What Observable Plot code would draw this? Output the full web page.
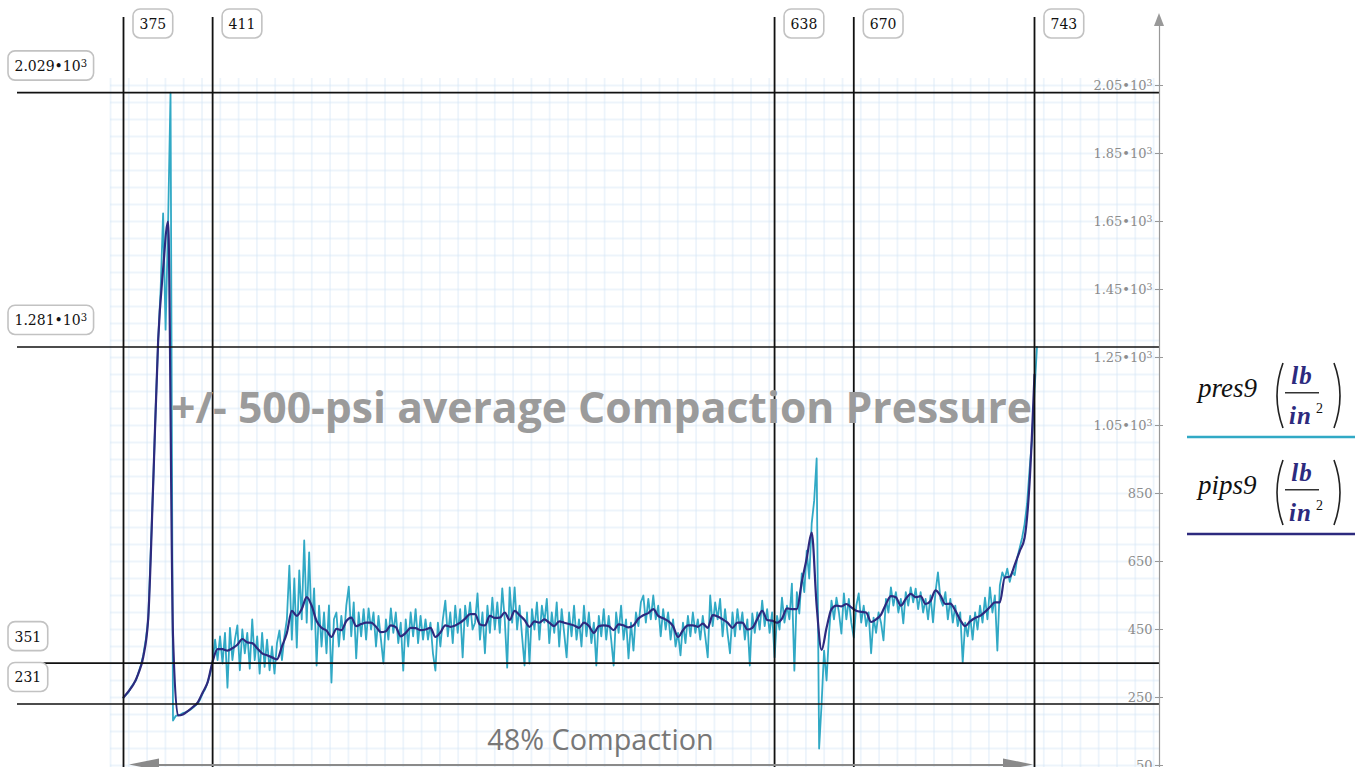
<!DOCTYPE html>
<html><head><meta charset="utf-8">
<script src="https://cdn.jsdelivr.net/npm/d3@7"></script>
<script src="https://cdn.jsdelivr.net/npm/@observablehq/plot@0.6"></script>
<style>
html,body{margin:0;padding:0;background:#fff;}
#wrap{position:relative;width:1361px;height:767px;overflow:hidden;}
</style></head><body><div id="wrap"></div>
<script>
// ---------- data ----------
const presStart = 375; // index of first pres9 sample, step 1
const pres9 = [
250,258,265,280,290,300,322,345,375,420,
480,680,880,1100,1300,1450,1674,1332,1640,2029,
182,195,198,200,204,206,210,214,220,226,
232,245,262,275,295,320,356,
420,360,430,350,440,279,455,360,420,
462,330,450,380,440,335,480,360,430,320,
440,340,420,330,400,320,410,447,360,430,
480,638,420,600,397,624,480,712,470,677,
450,571,344,520,400,500,380,521,294,480,
500,400,490,420,520,576,430,530,365,500,
430,510,420,512,450,500,400,490,420,350,
480,420,512,440,500,410,470,329,480,400,
500,430,510,410,490,420,480,420,470,380,
329,470,400,480,535,430,500,410,520,440,
510,368,520,460,530,450,470,556,420,500,
380,520,440,544,450,530,440,571,480,338,
574,470,574,450,520,430,344,500,350,510,
450,530,420,520,470,540,410,500,440,530,
400,510,440,368,500,430,520,420,480,400,
520,430,500,410,470,344,490,430,510,420,
490,420,344,500,440,520,420,480,365,470,
388,500,460,530,550,470,540,480,550,480,
520,430,510,450,500,420,480,400,440,374,
470,410,490,430,500,440,480,420,490,430,
368,550,460,530,480,540,430,510,440,380,
500,430,510,450,500,420,480,344,497,440,
500,450,535,460,510,440,500,368,490,450,
544,470,520,480,585,329,560,497,615,560,
682,600,762,829,953,100,232,388,300,438,
535,480,544,500,438,556,480,540,470,426,
520,556,470,520,460,500,380,485,440,500,
470,418,540,500,574,520,560,500,540,468,
560,520,574,530,570,510,560,500,540,480,
550,471,560,618,540,520,560,480,540,470,
520,460,500,353,470,430,490,420,500,450,
520,470,544,480,574,500,550,388,580,618,
600,629,590,620,610,660,690,720,760,820,
920,1010,1150,1281
];
const pipsStart = 375, pipsStep = 2; // pips9 sampled every 2 index units
const pips9 = [
250,268,288,320,370,485,880,1300,1510,1650,
430,197,200,210,222,236,265,295,356,392,
392,388,395,405,422,412,410,395,380,374,
368,362,400,440,505,490,510,545,520,475,
455,447,428,452,448,475,485,460,466,470,
470,458,442,445,462,457,430,440,455,454,
448,450,455,428,441,462,458,462,470,482,
495,495,465,462,490,484,485,500,478,505,
492,478,458,474,470,480,470,460,474,470,
466,462,455,470,460,440,460,462,460,448,
465,462,456,462,482,492,498,510,490,483,
475,460,428,448,462,462,458,467,455,492,
488,480,470,455,470,470,450,455,480,505,
478,476,470,482,512,510,510,590,660,735,
520,390,455,510,520,518,525,515,505,502,
500,472,480,494,525,548,545,520,540,555,
545,548,525,534,565,550,525,526,506,478,
460,474,484,490,502,516,530,530,603,605,
640,680,720,880,1200
];
const vMarks = [375, 411, 638, 670, 743];
const hMarks = [2029, 1281, 351, 231];
const yTicks = [50, 250, 450, 650, 850, 1050, 1250, 1450, 1650, 1850, 2050];
const legendNames = ["pres9", "pips9"];
const unitNum = "lb", unitDen = "in", unitExp = "2";
const titleText = "+/- 500-psi average Compaction Pressure";
const arrowText = "48% Compaction";

// ---------- layout ----------
const teal = "#31a9c5", navy = "#2d2a7e";
const X0 = 375, X1 = 743, PX0 = 123, PX1 = 1034;
const Y0 = 50, Y1 = 2050, PY0 = 765, PY1 = 85;
const px2x = p => X0 + (p - PX0) * (X1 - X0) / (PX1 - PX0);
const px2y = p => Y0 + (PY0 - p) * (Y1 - Y0) / (PY0 - PY1);

const fmtTick = v => v >= 1000 ? (v / 1000).toFixed(2) + "•10³" : String(v);
const fmtMark = v => v >= 1000 ? (v / 1000).toFixed(3) + "•10³" : String(v);

const presData = pres9.map((v, i) => ({x: presStart + i, y: v}));
const pipsData = pips9.map((v, i) => ({x: pipsStart + i * pipsStep, y: v}));

const gridX = d3.range(110, 1160, 18.3).map(px2x);
const gridY = d3.range(50, 2100, 50);
const arrowLevel = px2y(764.5);

const chart = Plot.plot({
  width: 1361, height: 767,
  marginTop: 0, marginRight: 0, marginBottom: 0, marginLeft: 0,
  x: {domain: [X0, X1], range: [PX0, PX1], axis: null},
  y: {domain: [Y0, Y1], range: [PY0, PY1], axis: null},
  marks: [
    Plot.ruleX(gridX, {x: d => d, y1: px2y(78), y2: px2y(770), stroke: "#d3e4f6", strokeWidth: 1.8, strokeOpacity: 0.42}),
    Plot.ruleY(gridY, {y: d => d, x1: px2x(110), x2: px2x(1159), stroke: "#d3e4f6", strokeWidth: 1.8, strokeOpacity: 0.42}),
    Plot.line(presData, {x: "x", y: "y", stroke: teal, strokeWidth: 1.8}),
    Plot.line(pipsData, {x: "x", y: "y", stroke: navy, strokeWidth: 2.2, curve: "monotone-x"}),
    Plot.ruleX(vMarks, {x: d => d, y1: px2y(17), y2: px2y(770), stroke: "#111", strokeWidth: 1.8}),
    Plot.ruleY(hMarks, {y: d => d, x1: px2x(17), x2: px2x(1159), stroke: "#111", strokeWidth: 1.6}),
    // right axis
    Plot.ruleX([px2x(1159)], {y1: px2y(22), y2: px2y(770), stroke: "#999", strokeWidth: 1.2}),
    Plot.ruleY(yTicks, {y: d => d, x1: px2x(1155), x2: px2x(1163), stroke: "#999", strokeWidth: 1}),
    Plot.text(yTicks, {x: px2x(1152), y: d => d, text: fmtTick, textAnchor: "end", lineAnchor: "middle",
      fill: "#8c8c8c", fontFamily: "DejaVu Serif", fontSize: 13, className: "sup"}),
    // marker labels
    Plot.text(vMarks, {x: d => d, y: px2y(24), dx: 16, text: d => String(d), textAnchor: "start", lineAnchor: "middle",
      fill: "#111", fontFamily: "DejaVu Serif", fontSize: 14, className: "boxlabel"}),
    Plot.text(hMarks, {x: px2x(14), y: d => d, dy: -26, text: fmtMark, textAnchor: "start", lineAnchor: "middle",
      fill: "#111", fontFamily: "DejaVu Serif", fontSize: 14, className: "boxlabel sup"}),
    // annotations
    Plot.text([titleText], {frameAnchor: "top-left", dx: 601, dy: 409, text: d => d, textAnchor: "middle", lineAnchor: "middle",
      fill: "#9b9b9b", fontFamily: "Open Sans", fontWeight: "bold", fontSize: 42.7}),
    Plot.text([arrowText], {frameAnchor: "top-left", dx: 600, dy: 740, text: d => d, textAnchor: "middle", lineAnchor: "middle",
      fill: "#777", fontFamily: "Open Sans", fontSize: 28.8}),
    Plot.ruleY([arrowLevel], {y: d => d, x1: px2x(150), x2: px2x(1005), stroke: "#8a8a8a", strokeWidth: 2})
  ]
});
document.getElementById("wrap").append(chart);

// larger superscript exponent in "•10³" labels
d3.select(chart).selectAll("g.sup text").each(function () {
  const t = this.textContent;
  if (!t.endsWith("³")) return;
  this.textContent = t.slice(0, -1);
  d3.select(this).append("tspan").attr("dy", "-0.42em").attr("font-size", "0.72em").text("3");
});

// boxes behind marker labels
d3.select(chart).selectAll("g.boxlabel text").each(function () {
  const b = this.getBBox();
  const r = document.createElementNS("http://www.w3.org/2000/svg", "rect");
  r.setAttribute("x", b.x - 6.5); r.setAttribute("y", b.y - 7);
  r.setAttribute("width", b.width + 13); r.setAttribute("height", b.height + 13);
  r.setAttribute("rx", 7); r.setAttribute("fill", "#fff");
  r.setAttribute("stroke", "#c2c2c2"); r.setAttribute("stroke-width", 1.6);
  if (this.getAttribute("transform")) r.setAttribute("transform", this.getAttribute("transform"));
  this.parentNode.insertBefore(r, this);
});

const sx = chart.scale("x"), sy = chart.scale("y");
const ov = d3.select(chart).append("g").attr("text-anchor", "start");
// arrow heads
const ay = sy.apply(arrowLevel);
const xr = sx.apply(vMarks[vMarks.length - 1]) - 1, xl = sx.apply(vMarks[0]) + 6;
ov.append("path").attr("d", `M${xr},${ay}L${xr - 30},${ay - 6}L${xr - 30},${ay + 6}Z`).attr("fill", "#8a8a8a");
ov.append("path").attr("d", `M${xl},${ay}L${xl + 30},${ay - 6}L${xl + 30},${ay + 6}Z`).attr("fill", "#8a8a8a");
// axis arrow
const axX = sx.apply(px2x(1159));
ov.append("path").attr("d", `M${axX},13L${axX - 5},26L${axX + 5},26Z`).attr("fill", "#999");

// legend
const legColors = [teal, navy];
legendNames.forEach((name, k) => {
  const o = k * 97;
  ov.append("text").attr("x", 1198).attr("y", 397 + o).attr("font-family", "Liberation Serif")
    .attr("font-style", "italic").attr("font-size", 27).attr("fill", "#111").text(name);
  ov.append("path").attr("d", `M1283,${363 + o}Q1271,${395.5 + o} 1283,${428 + o}`)
    .attr("fill", "none").attr("stroke", "#222").attr("stroke-width", 1.6);
  ov.append("path").attr("d", `M1334,${363 + o}Q1346,${395.5 + o} 1334,${428 + o}`)
    .attr("fill", "none").attr("stroke", "#222").attr("stroke-width", 1.6);
  ov.append("text").attr("x", 1302).attr("y", 384 + o).attr("text-anchor", "middle")
    .attr("font-family", "Liberation Serif").attr("font-style", "italic").attr("font-weight", "bold")
    .attr("font-size", 25).attr("letter-spacing", 1).attr("fill", navy).text(unitNum);
  ov.append("line").attr("x1", 1285).attr("x2", 1319).attr("y1", 392.7 + o).attr("y2", 392.7 + o)
    .attr("stroke", "#333").attr("stroke-width", 1.5);
  ov.append("text").attr("x", 1289).attr("y", 424 + o)
    .attr("font-family", "Liberation Serif").attr("font-style", "italic").attr("font-weight", "bold")
    .attr("font-size", 25).attr("letter-spacing", 1).attr("fill", navy).text(unitDen);
  ov.append("text").attr("x", 1316).attr("y", 413 + o)
    .attr("font-family", "Liberation Serif").attr("font-size", 14).attr("fill", "#111").text(unitExp);
  ov.append("line").attr("x1", 1187).attr("x2", 1355).attr("y1", 437 + o).attr("y2", 437 + o)
    .attr("stroke", legColors[k]).attr("stroke-width", 2.5);
});
</script></body></html>
